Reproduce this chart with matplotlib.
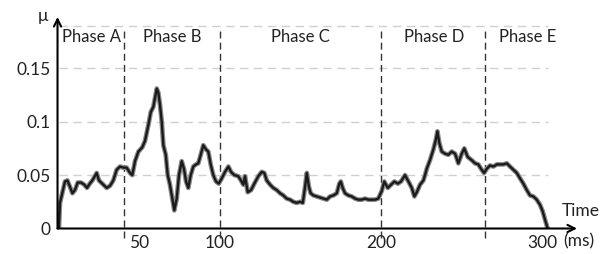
import matplotlib
matplotlib.use("Agg")
import matplotlib.pyplot as plt
import matplotlib.patheffects as pe

plt.rcParams['font.family'] = ['Lato', 'DejaVu Sans']

# friction coefficient trace (time in ms)
time_ms = [0, 0.0, 0.6, 2.0, 3.7, 5.2, 6.8, 8.3, 9.9, 11.6, 13.7, 15.7, 17.4, 19.1, 20.7,
           23.4, 24.8, 27.5, 29.6, 31.7, 33.7, 35.8, 37.9, 39.9, 42.0, 44.1, 45.5, 47.2,
           49.3, 51.7, 53.4, 55.5, 57.0, 58.6, 59.6, 60.7, 61.7, 62.7, 63.8, 64.8, 66.3,
           67.5, 68.9, 70.4, 71.6, 73.1, 74.5, 76.2, 77.6, 78.9, 80.3, 81.8, 83.4, 85.1,
           86.5, 88.0, 89.6, 91.3, 92.7, 94.2, 95.8, 97.5, 99.2, 101.1, 103.1, 105.2,
           106.8, 108.9, 111.3, 113.0, 114.5, 115.5, 117.2, 119.3, 121.3, 123.8, 125.9,
           127.5, 129.0, 131.1, 133.1, 135.2, 137.3, 139.3, 141.4, 143.5, 145.5, 147.6,
           149.7, 151.4, 152.8, 153.9, 155.2, 156.3, 158.0, 160.1, 162.1, 164.2, 166.3,
           168.3, 170.4, 172.5, 174.1, 175.0, 176.2, 177.6, 179.7, 181.8, 183.9, 185.9,
           188.0, 190.1, 192.1, 194.2, 196.3, 198.3, 200.4, 202.0, 204.2, 206.2, 208.3,
           210.4, 212.4, 214.9, 217.0, 219.1, 220.7, 222.2, 224.2, 226.3, 227.3, 228.4,
           230.4, 232.5, 234.0, 235.0, 236.2, 237.7, 239.8, 241.8, 243.9, 246.0, 248.0,
           250.1, 251.7, 253.8, 256.3, 258.4, 260.4, 262.5, 264.0, 265.7, 267.7, 269.8,
           271.9, 273.9, 276.0, 278.1, 280.1, 282.2, 284.3, 286.3, 288.4, 290.5, 292.5,
           294.6, 296.7, 298.8, 300.4, 301.9, 303.3]
mu = [0, 0.003, 0.024, 0.033, 0.044, 0.045, 0.039, 0.033, 0.036, 0.043, 0.043, 0.041,
      0.038, 0.042, 0.045, 0.052, 0.045, 0.041, 0.038, 0.040, 0.045, 0.055, 0.058, 0.057,
      0.057, 0.052, 0.050, 0.063, 0.072, 0.076, 0.082, 0.097, 0.109, 0.114, 0.122, 0.131,
      0.127, 0.116, 0.100, 0.078, 0.069, 0.050, 0.041, 0.028, 0.017, 0.028, 0.050, 0.063,
      0.056, 0.044, 0.038, 0.050, 0.058, 0.060, 0.061, 0.069, 0.078, 0.074, 0.072, 0.060,
      0.050, 0.044, 0.042, 0.047, 0.053, 0.058, 0.053, 0.050, 0.049, 0.045, 0.041, 0.049,
      0.034, 0.036, 0.042, 0.049, 0.053, 0.052, 0.045, 0.041, 0.038, 0.036, 0.033, 0.031,
      0.028, 0.027, 0.025, 0.024, 0.025, 0.024, 0.039, 0.052, 0.039, 0.033, 0.031, 0.030,
      0.029, 0.028, 0.027, 0.030, 0.031, 0.033, 0.042, 0.044, 0.038, 0.033, 0.031, 0.030,
      0.028, 0.027, 0.027, 0.028, 0.027, 0.027, 0.027, 0.028, 0.035, 0.044, 0.038, 0.041,
      0.044, 0.042, 0.044, 0.050, 0.044, 0.038, 0.030, 0.034, 0.041, 0.045, 0.050, 0.056,
      0.064, 0.074, 0.083, 0.091, 0.080, 0.072, 0.070, 0.069, 0.072, 0.070, 0.061, 0.070,
      0.075, 0.067, 0.064, 0.061, 0.060, 0.055, 0.052, 0.056, 0.059, 0.058, 0.060, 0.060,
      0.060, 0.061, 0.058, 0.055, 0.052, 0.047, 0.042, 0.036, 0.031, 0.030, 0.027, 0.022,
      0.016, 0.008, 0.001]

phase_bounds = [40.4, 100, 200, 264.6]
phase_names = ["Phase A", "Phase B", "Phase C", "Phase D", "Phase E"]
phase_label_x = [19.9, 70.5, 149.7, 233, 291]
grid_levels = [0.05, 0.1, 0.15, 0.19]
x_ticks = [50, 100, 200, 300]
y_ticks = [0, 0.05, 0.1, 0.15]
y_ticklabels = ["0", "0.05", "0.1", "0.15"]

fig = plt.figure(figsize=(6.1, 2.54), dpi=100)
ax = fig.add_axes([0.0943, 0.1004, 0.8516, 0.8327])
ax.set_xlim(-0.93, 321.7)
ax.set_ylim(0, 0.198)

for g in grid_levels:
    ax.plot([0, 303.7], [g, g], color='#d0d0d0', lw=1, dashes=(6, 4), zorder=1)

for b in phase_bounds:
    ax.plot([b, b], [-0.009, 0.188], color='#333333', lw=1, dashes=(5, 3),
            clip_on=False, zorder=2)

for name, px in zip(phase_names, phase_label_x):
    ax.text(px, 0.179, name, ha='center', va='center', fontsize=12, color='#222222')

ax.plot(time_ms, mu, color='#1a1a1a', lw=1.7, zorder=3,
        path_effects=[pe.Stroke(linewidth=3.4, foreground='#8a8a8a'), pe.Normal()])

for s in ax.spines.values():
    s.set_visible(False)
ax.annotate('', xy=(1, 0), xytext=(0, 0), xycoords='axes fraction',
            arrowprops=dict(arrowstyle='->', color='black', lw=1.5, mutation_scale=13,
                            shrinkA=0, shrinkB=0))
ax.annotate('', xy=(0, 1), xytext=(0, 0), xycoords='axes fraction',
            arrowprops=dict(arrowstyle='->', color='black', lw=1.5, mutation_scale=13,
                            shrinkA=0, shrinkB=0))

ax.set_xticks(x_ticks)
ax.set_xticklabels([str(t) for t in x_ticks])
ax.set_yticks(y_ticks)
ax.set_yticklabels(y_ticklabels)
ax.tick_params(length=0, labelsize=12.5, colors='#222222')
ax.tick_params(axis='x', pad=5)
ax.tick_params(axis='y', pad=5)

ax.text(324.2, 0.0164, "Time", ha='center', va='center', fontsize=12.5, color='#222222',
        clip_on=False)
ax.text(323.0, -0.0117, "(ms)", ha='center', va='center', fontsize=12.5, color='#222222',
        clip_on=False)
ax.text(-9.9, 0.199, "μ", ha='center', va='center', fontsize=12.5, color='#222222',
        clip_on=False)

fig.savefig("out.png", dpi=100)
